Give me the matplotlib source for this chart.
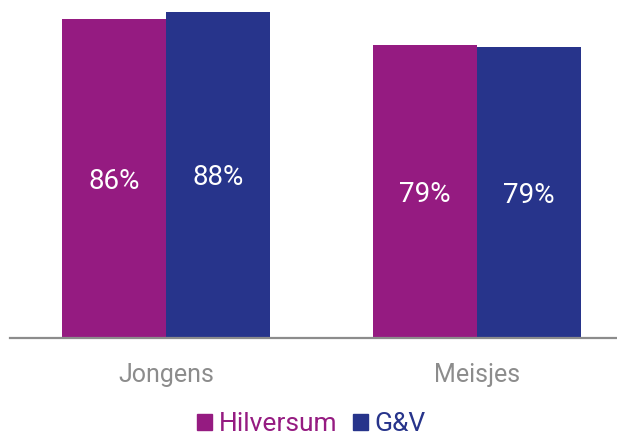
import matplotlib.pyplot as plt
from matplotlib.patches import Patch
import numpy as np

plt.rcParams['font.family'] = ['Roboto', 'DejaVu Sans']

categories = ['Jongens', 'Meisjes']
series = ['Hilversum', 'G&V']
hilversum = [86.0, 79.0]
gv = [88.0, 78.6]
colors = ['#951B81', '#27348B']

fig = plt.figure(figsize=(6.17, 4.34), dpi=100)
ax = fig.add_axes([10 / 617, 1 - 338 / 434, 607 / 617, 338 / 434])

x = np.arange(len(categories))
w = 0.334
for i, (vals, col) in enumerate([(hilversum, colors[0]), (gv, colors[1])]):
    pos = x + (i - 0.5) * w
    ax.bar(pos, vals, width=w, color=col, align='center', zorder=2)
    for p, v in zip(pos, vals):
        ax.text(p, v / 2, f'{v:.0f}%', ha='center', va='center_baseline',
                color='white', fontsize=20)

ax.set_ylim(0, 91.2)
ax.set_xlim(-0.502, 1.45)
ax.set_yticks([])
ax.set_xticks(x)
ax.set_xticklabels(categories, fontsize=18, color='#8c8c8c')
ax.tick_params(axis='x', length=0, pad=18)
for s in ['top', 'right', 'left']:
    ax.spines[s].set_visible(False)
ax.spines['bottom'].set_color('#8c8c8c')
ax.spines['bottom'].set_linewidth(1.6)

handles = [Patch(color=c) for c in colors]
leg = fig.legend(handles, series, loc='center', bbox_to_anchor=(0.505, 1 - 424 / 434),
                 ncol=2, frameon=False, fontsize=19, handlelength=0.56,
                 handleheight=0.56, handletextpad=0.25, columnspacing=0.6)
for t, c in zip(leg.get_texts(), colors):
    t.set_color(c)

fig.savefig('out.png', dpi=100)
